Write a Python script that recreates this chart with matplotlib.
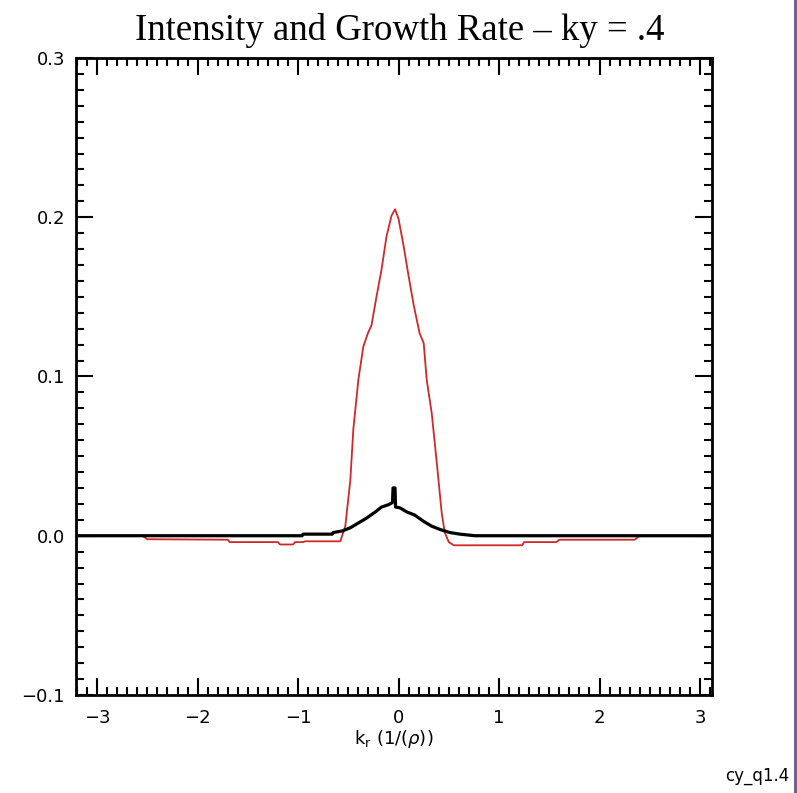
import numpy as np
import matplotlib
matplotlib.use('Agg')
import matplotlib.pyplot as plt
from matplotlib.ticker import MultipleLocator, FuncFormatter
from matplotlib.lines import Line2D

# growth rate (red)
kr_red = [-3.21, -2.55, -2.50, -1.70, -1.68, -1.20, -1.18, -1.05, -1.03, -0.95,
          -0.93, -0.58, -0.53, -0.48, -0.45, -0.40, -0.35, -0.30, -0.27, -0.22,
          -0.17, -0.12, -0.07, -0.035, 0.0, 0.05, 0.10, 0.15, 0.21, 0.25,
          0.28, 0.33, 0.38, 0.43, 0.46, 0.50, 0.55, 1.23, 1.25, 1.57,
          1.60, 2.35, 2.40, 3.12]
gamma = [0.0, 0.0, -0.0022, -0.0025, -0.004, -0.004, -0.0055, -0.0055, -0.004, -0.004,
         -0.0035, -0.0035, 0.006, 0.035, 0.067, 0.098, 0.119, 0.128, 0.132, 0.150,
         0.167, 0.188, 0.201, 0.205, 0.199, 0.182, 0.163, 0.145, 0.127, 0.121,
         0.098, 0.077, 0.046, 0.014, 0.002, -0.004, -0.006, -0.006, -0.004, -0.004,
         -0.0025, -0.0025, 0.0, 0.0]

# intensity (black)
kr_blk = [-3.21, -0.96, -0.95, -0.66, -0.65, -0.56, -0.48, -0.40, -0.32, -0.23,
          -0.17, -0.10, -0.07, -0.06, -0.055, -0.035, -0.03, 0.015, 0.08, 0.16,
          0.25, 0.33, 0.41, 0.51, 0.61, 0.76, 3.12]
intensity = [0.0, 0.0, 0.001, 0.001, 0.002, 0.003, 0.005, 0.008, 0.011, 0.015,
             0.018, 0.0195, 0.0205, 0.021, 0.030, 0.030, 0.018, 0.0175, 0.015, 0.013,
             0.009, 0.006, 0.004, 0.002, 0.001, 0.0, 0.0]

fig = plt.figure(figsize=(7.97, 7.93), dpi=100)
ax = fig.add_axes([0.0954, 0.1236, 0.798, 0.8033])

ax.plot(kr_red, gamma, color='#d02828', linewidth=1.3)
ax.plot(kr_blk, intensity, color='black', linewidth=2.3)

ax.set_xlim(-3.21, 3.12)
ax.set_ylim(-0.1, 0.3)

ax.xaxis.set_major_locator(MultipleLocator(1))
ax.xaxis.set_minor_locator(MultipleLocator(0.1))
ax.yaxis.set_major_locator(MultipleLocator(0.1))
ax.yaxis.set_minor_locator(MultipleLocator(0.01))
ax.yaxis.set_major_formatter(FuncFormatter(lambda v, p: ('%.1f' % v).replace('-', '\u2212')))

ax.tick_params(which='both', direction='in', top=True, right=True,
               labelsize=13, width=1.5)
ax.tick_params(which='major', length=12)
ax.tick_params(which='minor', length=6)
ax.tick_params(axis='x', pad=10)
ax.tick_params(axis='y', pad=8)
for s in ax.spines.values():
    s.set_linewidth(2)

ax.set_xlabel(r'k$_{\rm r}$ (1/($\rho$))', fontsize=13, labelpad=1)

fig.text(0.502, 0.962, 'Intensity and Growth Rate \u2013 ky = .4',
         family='Liberation Serif', fontsize=26.5, ha='center', va='center')
fig.text(0.95, 0.021, 'cy_q1.4', fontsize=12, ha='center', va='center')

# screenshot border on the right
fig.add_artist(Line2D([0.9975, 0.9975], [0, 1], transform=fig.transFigure,
                      color='#5a5a96', linewidth=2))

fig.savefig('out.png', dpi=100)
